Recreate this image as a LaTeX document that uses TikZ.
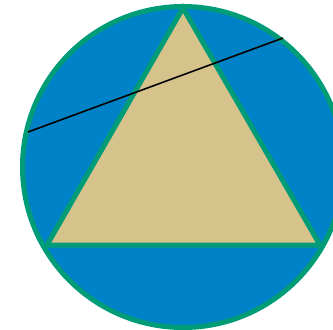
\documentclass[tikz,border=0pt]{standalone}
\usetikzlibrary{calc}
\definecolor{cDisc}{HTML}{0082C8}
\definecolor{cRim}{HTML}{009B77}
\definecolor{cTri}{HTML}{D6C38C}
\tikzset{
  disc/.style={draw=cRim, fill=cDisc, line width=5pt},
  tri/.style={draw=cRim, fill=cTri, line width=5pt, line join=miter},
  chord/.style={draw=black, line width=1.6pt},
}
\begin{document}
\begin{tikzpicture}[x=1pt, y=-1pt]
    \useasboundingbox (0,0) rectangle (333,330);
    \coordinate (O) at (183,167);
    \coordinate (top) at (183,8);
    \coordinate (bl)  at (47,245);
    \coordinate (br)  at (320,245);
    \coordinate (pL)  at (28,132);
    \coordinate (pR)  at (283,38);
    \draw[disc] (O) circle[radius=160.5];
    \draw[tri] (top) -- (br) -- (bl) -- cycle;
    \draw[chord] (pL) -- (pR);
  \end{tikzpicture}
\end{document}
